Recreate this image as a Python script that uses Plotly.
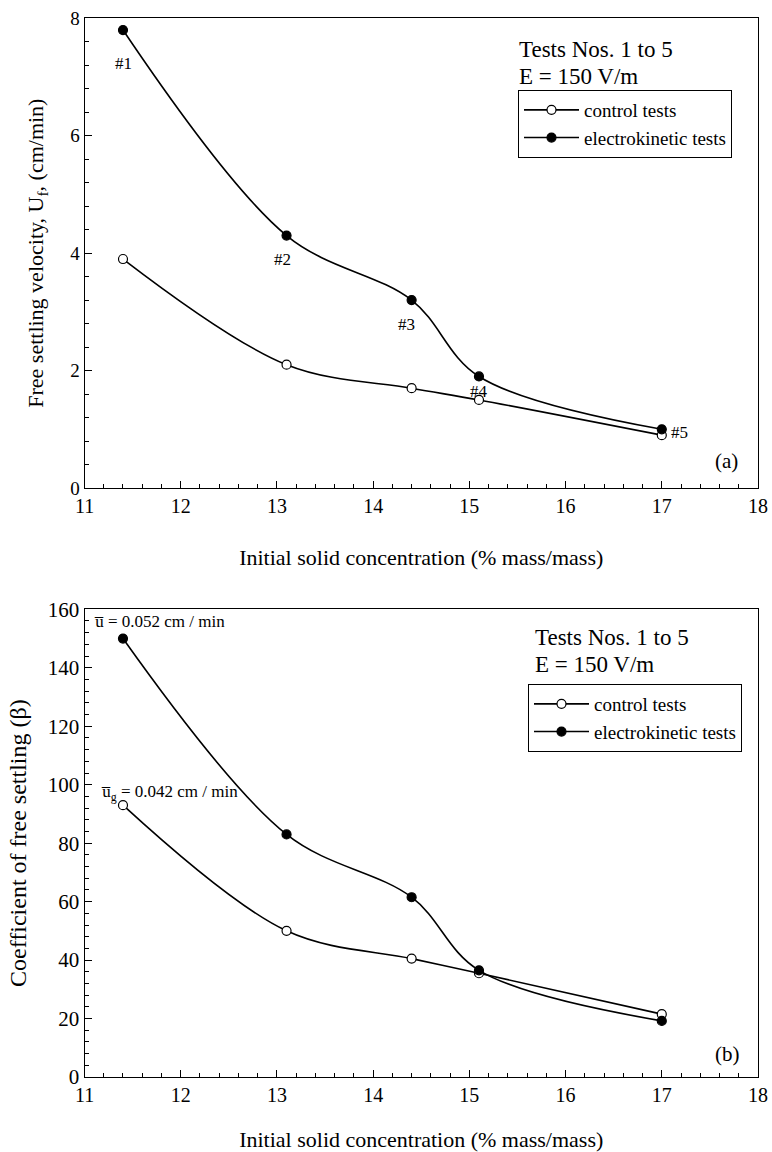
import plotly.graph_objects as go

# Data
conc = [11.4, 13.1, 14.4, 15.1, 17.0]
vel_control = [3.9, 2.1, 1.7, 1.5, 0.9]
vel_ek = [7.8, 4.3, 3.2, 1.9, 1.0]
beta_control = [93, 50, 40.5, 35.5, 21.5]
beta_ek = [150, 83, 61.5, 36.5, 19.2]
test_labels = ["#1", "#2", "#3", "#4", "#5"]

FONT = "Liberation Serif, Times New Roman, serif"
fig = go.Figure()

def add_series(x, y, name, filled, xa, ya, legend, showlegend=True):
    fig.add_trace(go.Scatter(
        x=x, y=y, mode="lines+markers", name=name,
        line=dict(color="black", width=1.6, shape="spline", smoothing=1.0),
        marker=dict(symbol="circle", size=9,
                    color="black" if filled else "white",
                    line=dict(color="black", width=1.2)),
        xaxis=xa, yaxis=ya, legend=legend, showlegend=showlegend))

add_series(conc, vel_control, "control tests", False, "x", "y", "legend")
add_series(conc, vel_ek, "electrokinetic tests", True, "x", "y", "legend")
add_series(conc, beta_control, "control tests", False, "x2", "y2", "legend2")
add_series(conc, beta_ek, "electrokinetic tests", True, "x2", "y2", "legend2")

xdom = [84.5 / 772, 758 / 772]
ydom1 = [1 - 488 / 1152, 1 - 18.3 / 1152]
ydom2 = [1 - 1077 / 1152, 1 - 609.3 / 1152]

def xaxis(dom_anchor, standoff):
    return dict(
        domain=xdom, anchor=dom_anchor, range=[11, 18], dtick=1, tick0=11,
        showline=True, linecolor="black", linewidth=1, mirror=True,
        ticks="inside", ticklen=7, tickwidth=1, tickcolor="black",
        minor=dict(ticks="inside", ticklen=4, dtick=0.2, tickcolor="black", showgrid=False),
        showgrid=False, zeroline=False, automargin=False,
        tickfont=dict(family=FONT, size=20, color="black"),
        title=dict(text="Initial solid concentration (% mass/mass)",
                   font=dict(family=FONT, size=22, color="black"), standoff=standoff),
    )

def yaxis(dom, anchor, rng, dtick, mdtick, title, tsize, fsize, standoff):
    return dict(
        domain=dom, anchor=anchor, range=rng, dtick=dtick,
        showline=True, linecolor="black", linewidth=1, mirror=True,
        ticks="inside", ticklen=7, tickwidth=1, tickcolor="black",
        minor=dict(ticks="inside", ticklen=4, dtick=mdtick, tickcolor="black", showgrid=False),
        showgrid=False, zeroline=False, automargin=False,
        tickfont=dict(family=FONT, size=fsize, color="black"),
        title=dict(text=title, font=dict(family=FONT, size=tsize, color="black"), standoff=standoff),
    )

legend_style = dict(
    xanchor="left", yanchor="top", bgcolor="white", bordercolor="black", borderwidth=1,
    font=dict(family=FONT, size=19, color="black"), itemwidth=55, tracegroupgap=0,
)

fig.update_layout(
    width=772, height=1152,
    margin=dict(l=0, r=0, t=0, b=0, autoexpand=False),
    paper_bgcolor="white", plot_bgcolor="white",
    font=dict(family=FONT, color="black"),
    xaxis=xaxis("y", 33),
    yaxis=yaxis(ydom1, "x", [0, 8], 2, 0.4,
                "Free settling velocity, U<sub>f</sub>, (cm/min)", 22, 19, 20),
    xaxis2=xaxis("y2", 29),
    yaxis2=yaxis(ydom2, "x2", [0, 160], 20, 4,
                 "Coefficient of free settling (β)", 24, 21, 14),
    legend=dict(x=518 / 772, y=1 - 90 / 1152, **legend_style),
    legend2=dict(x=528 / 772, y=1 - 684 / 1152, **legend_style),
    showlegend=True,
)

ann = []
# Test labels on panel (a)
label_pos = [(11.41, 7.23, "center"), (13.06, 3.9, "center"), (14.35, 2.79, "center"),
             (15.1, 1.65, "center"), (17.07, 0.95, "left")]
for lab, (lx, ly, al) in zip(test_labels, label_pos):
    ann.append(dict(x=lx, y=ly, xref="x", yref="y", text=lab, showarrow=False,
                    xanchor=al, yanchor="middle",
                    font=dict(family=FONT, size=17, color="black")))

ann += [
    dict(x=15.5, y=7.47, xref="x", yref="y", text="Tests Nos. 1 to 5", showarrow=False,
         xanchor="left", yanchor="middle", font=dict(family=FONT, size=23, color="black")),
    dict(x=15.5, y=7.01, xref="x", yref="y", text="E = 150 V/m", showarrow=False,
         xanchor="left", yanchor="middle", font=dict(family=FONT, size=23, color="black")),
    dict(x=17.67, y=0.46, xref="x", yref="y", text="(a)", showarrow=False,
         xanchor="center", yanchor="middle", font=dict(family=FONT, size=21, color="black")),
    dict(x=15.66, y=150.3, xref="x2", yref="y2", text="Tests Nos. 1 to 5", showarrow=False,
         xanchor="left", yanchor="middle", font=dict(family=FONT, size=23, color="black")),
    dict(x=15.66, y=141.0, xref="x2", yref="y2", text="E = 150 V/m", showarrow=False,
         xanchor="left", yanchor="middle", font=dict(family=FONT, size=23, color="black")),
    dict(x=17.68, y=7.9, xref="x2", yref="y2", text="(b)", showarrow=False,
         xanchor="center", yanchor="middle", font=dict(family=FONT, size=21, color="black")),
    dict(x=11.08, y=155.8, xref="x2", yref="y2", text="u\u0305 = 0.052 cm / min", showarrow=False,
         xanchor="left", yanchor="middle", font=dict(family=FONT, size=17, color="black")),
    dict(x=11.15, y=97.3, xref="x2", yref="y2", text="u\u0305<sub>g</sub> = 0.042 cm / min",
         showarrow=False, xanchor="left", yanchor="middle",
         font=dict(family=FONT, size=17, color="black")),
]
fig.update_layout(annotations=ann)

fig.write_html("out.html")
